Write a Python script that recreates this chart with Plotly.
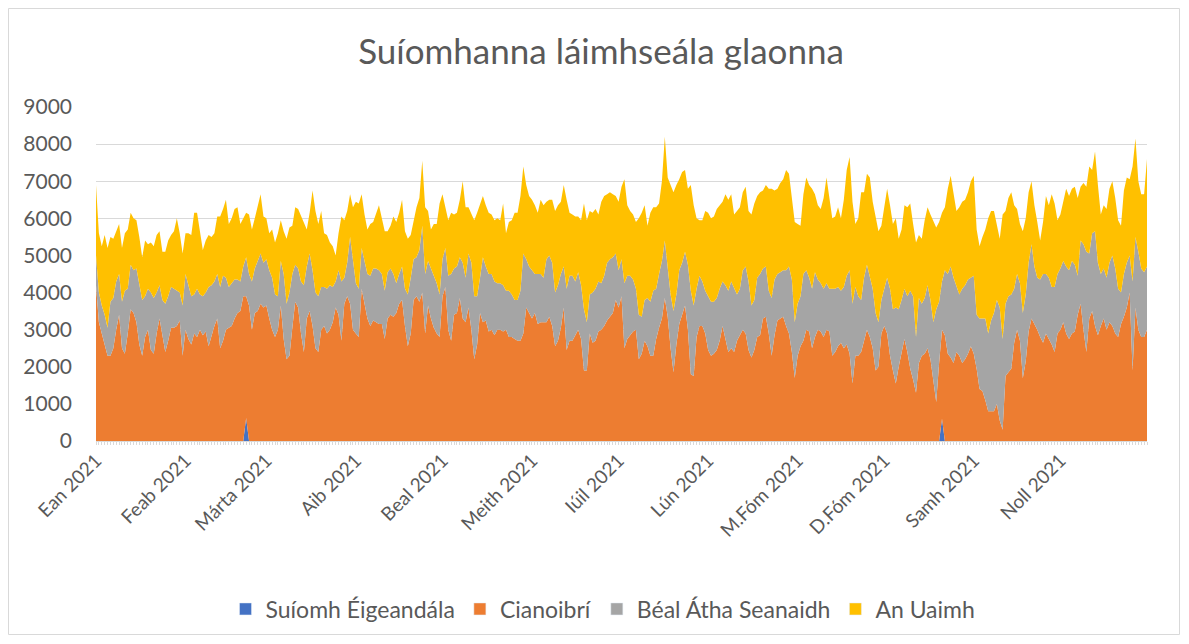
import pandas as pd
import plotly.graph_objects as go

dates = pd.date_range("2021-01-01", periods=365, freq="D")

month_ticks = pd.date_range("2021-01-01", periods=12, freq="MS")
month_labels = ["Ean 2021", "Feab 2021", "Márta 2021", "Aib 2021", "Beal 2021", "Meith 2021",
                "Iúil 2021", "Lún 2021", "M.Fóm 2021", "D.Fóm 2021", "Samh 2021", "Noll 2021"]

series_names = ["Suíomh Éigeandála", "Cianoibrí", "Béal Átha Seanaidh", "An Uaimh"]
series_colors = ["#4472C4", "#ED7D31", "#A5A5A5", "#FFC000"]

suiomh_eigeandala = [0] * 52 + [620] + [0] * 240 + [600] + [0] * 71

cianoibri = [
    4200, 3200, 2900, 2600, 2300, 2300, 2500, 3000, 3400, 2500,
    2350, 2900, 3550, 3450, 3200, 2600, 2300, 2800, 3000, 2450,
    2350, 2900, 3300, 2850, 2400, 2700, 3050, 3050, 3100, 3250,
    2300, 3000, 2750, 2600, 2900, 2800, 3000, 2850, 2950, 2550,
    2850, 3100, 3300, 2500, 2700, 3000, 3050, 3100, 3300, 3450,
    3500, 3900, 3280, 3650, 3000, 3450, 3500, 3700, 3600, 3650,
    3300, 3000, 2800, 3000, 3650, 2750, 2200, 2300, 3050, 3750,
    3600, 2900, 2400, 3300, 3500, 3100, 2500, 2400, 3000, 3100,
    2900, 3000, 3200, 3600, 3400, 2700, 3700, 3900, 3700, 3000,
    2900, 2800, 4100, 3700, 3300, 3100, 3250, 3200, 3150, 3150,
    2750, 3300, 3400, 3350, 3450, 3700, 3800, 3100, 2550, 2900,
    3800, 3900, 3750, 4000, 2900, 3650, 3300, 3050, 2900, 2800,
    3900, 4150, 3000, 2700, 3400, 3450, 3850, 3300, 3200, 3600,
    3000, 2200, 2600, 3450, 3200, 3250, 2950, 3000, 2850, 3000,
    3000, 2950, 3000, 2800, 2800, 2750, 2700, 2700, 2900, 3600,
    3450, 3300, 3450, 3150, 3200, 3200, 3200, 3350, 3100, 2550,
    2700, 3050, 3600, 2450, 2700, 2700, 2850, 3000, 2750, 1900,
    1900, 2900, 2650, 2700, 2950, 3000, 3100, 3250, 3350, 3450,
    3800, 3600, 3900, 2500, 2750, 2850, 2950, 3000, 2200, 2350,
    2700, 2550, 2300, 2300, 2750, 3050, 3300, 3850, 3350, 2500,
    1850, 2600, 3150, 3400, 3650, 3000, 1800, 1750, 2800, 3100,
    3100, 2900, 2450, 2300, 2350, 2450, 2700, 3100, 2700, 2400,
    2500, 2400, 2700, 2850, 3000, 2900, 2450, 2250, 2450, 2800,
    2850, 3300, 3350, 2900, 2300, 2850, 3250, 3300, 3350, 3100,
    2900, 2400, 1700, 2300, 2550, 2700, 3000, 2950, 2500, 2800,
    3000, 2950, 2800, 3000, 2950, 2300, 2400, 2550, 2650, 2500,
    2600, 2350, 1550, 2300, 2300, 2400, 2700, 3000, 2800, 2500,
    1900, 2000, 2900, 3100, 2900, 2300, 1900, 1550, 2000, 2400,
    2750, 2400, 1950, 1650, 1300, 2100, 2300, 2350, 2500, 2200,
    1650, 1050, 2100, 2400, 2850, 2350, 2250, 2100, 2400, 2300,
    2100, 2200, 2350, 2550, 2350, 1950, 1400, 1350, 1100, 800,
    800, 800, 1000, 550, 300, 1750, 1850, 1950, 2650, 3000,
    2700, 1700, 2150, 2950, 3300, 3150, 3000, 2800, 2650, 2900,
    2750, 2600, 2400, 2900, 3000, 3200, 2900, 2750, 2900, 2950,
    3400, 3700, 3000, 2400, 3300, 3500, 3100, 2850, 3100, 3300,
    3000, 3200, 3100, 2900, 2800, 3150, 3350, 3600, 4000, 1900,
    3600, 3000, 2800, 2800, 3000,
]

beal_atha_seanaidh = [
    800, 800, 750, 800, 750, 1450, 1350, 1300, 1100, 1250,
    1700, 1200, 1200, 1150, 1450, 1600, 1500, 1100, 1100, 1550,
    1500, 1100, 900, 950, 1300, 1200, 1100, 1050, 950, 750,
    1350, 1500, 1450, 1300, 1050, 1300, 950, 1050, 1050, 1600,
    1350, 1200, 1200, 1650, 1750, 1400, 1100, 1150, 1050, 900,
    800, 800, 1050, 850, 1300, 1200, 1350, 1350, 1200, 1250,
    1300, 1400, 1150, 900, 1200, 1750, 1500, 1700, 1450, 1000,
    1050, 1400, 1800, 1400, 1550, 1500, 1500, 1500, 1150, 1050,
    1200, 1200, 950, 700, 1200, 1600, 700, 900, 1800, 1800,
    1350, 1300, 1100, 1150, 1200, 1350, 1400, 1450, 1450, 1350,
    1300, 1250, 1250, 1150, 800, 800, 900, 1000, 1400, 1500,
    1100, 1050, 1400, 1800, 1600, 1200, 1350, 1400, 1350, 1150,
    1000, 1050, 1450, 1800, 1250, 1250, 1100, 1500, 1200, 1450,
    1800, 1700, 1300, 950, 1750, 1450, 1550, 1500, 1450, 1250,
    1250, 1250, 1050, 1250, 1150, 1050, 1100, 1350, 2150, 1300,
    1250, 1300, 1050, 1350, 1300, 1200, 1700, 1650, 1700, 1450,
    1500, 1450, 1100, 1650, 1750, 1750, 1450, 1550, 1450, 1650,
    1300, 1050, 1350, 1400, 1350, 1250, 1350, 1550, 1550, 1500,
    1250, 1000, 1000, 1750, 1700, 1600, 1400, 1100, 1200, 1000,
    1100, 1300, 1450, 1750, 1350, 1450, 1550, 1550, 1350, 1450,
    1650, 1350, 1450, 1400, 1450, 1750, 2250, 1900, 1300, 1350,
    1200, 1150, 1450, 1450, 1400, 1400, 1400, 1200, 1500, 1650,
    1800, 1700, 1250, 1250, 1600, 1800, 1850, 1400, 1350, 1600,
    1650, 1350, 1350, 1150, 1550, 1500, 1250, 1250, 1250, 1500,
    1800, 1950, 1500, 1400, 1350, 1800, 1600, 1450, 1600, 1750,
    1350, 1300, 1300, 1250, 1150, 1800, 1700, 1600, 1400, 1650,
    1850, 2250, 2150, 1850, 1600, 1400, 1700, 1750, 1600, 1600,
    1550, 1200, 900, 1000, 1500, 1800, 1650, 2050, 1550, 1400,
    1350, 1500, 2100, 2250, 1500, 1750, 1400, 1500, 1700, 1600,
    1550, 2500, 1650, 1300, 1750, 2150, 2450, 2300, 1750, 1650,
    2000, 2000, 2000, 1850, 2100, 1450, 1900, 1950, 2200, 2100,
    2450, 2650, 2800, 3050, 2450, 1950, 2050, 2000, 1450, 1500,
    1550, 1750, 1800, 1850, 2000, 1550, 1400, 1550, 1850, 1600,
    1650, 1550, 1750, 1600, 1650, 1650, 1800, 1850, 1950, 1800,
    1050, 1700, 2300, 2700, 1750, 2100, 2550, 1950, 1400, 1350,
    1400, 1600, 1900, 1750, 1300, 850, 1150, 1200, 1000, 2400,
    1900, 2100, 1850, 1750, 1700,
]

an_uaimh = [
    1900, 1600, 1600, 2150, 2150, 1750, 1600, 1350, 1350, 1450,
    1550, 1600, 1400, 1400, 1300, 1300, 1150, 1500, 1200, 1350,
    1400, 1550, 1450, 1300, 1400, 1500, 1400, 1550, 1950, 1600,
    1400, 1100, 1400, 1650, 2200, 2050, 1650, 1250, 1400, 1400,
    1300, 1300, 1550, 1900, 1800, 2100, 1700, 1750, 1900, 1950,
    1550, 1300, 1200, 1600, 1400, 1350, 1450, 1600, 1250, 1100,
    1000, 1300, 1400, 1700, 1100, 1150, 1750, 1750, 1300, 1550,
    1600, 1750, 1650, 1000, 1100, 2150, 2200, 1950, 2050, 1450,
    1450, 1150, 1100, 700, 1000, 1750, 1550, 1400, 1150, 1500,
    2200, 2300, 1450, 1250, 1200, 1400, 1250, 1450, 1750, 1500,
    1600, 1100, 1150, 1550, 1650, 1650, 1800, 1550, 1500, 1150,
    1050, 1350, 1400, 1750, 1800, 1350, 1050, 1400, 1600, 2450,
    1750, 1050, 1500, 1650, 1450, 1450, 1550, 2200, 1900, 1250,
    1300, 2050, 2250, 2000, 1650, 1650, 1650, 1600, 1650, 1750,
    1700, 2200, 1550, 1850, 2000, 2350, 2350, 2550, 2350, 2000,
    1900, 1900, 1850, 1650, 2000, 1950, 1550, 1500, 1700, 2200,
    2150, 1950, 2200, 2400, 1700, 1650, 1750, 1500, 1750, 2850,
    2750, 2250, 2150, 2150, 1800, 2200, 2150, 1850, 1800, 1700,
    1550, 1850, 1950, 2800, 1900, 1750, 1750, 1800, 2600, 2800,
    2550, 1950, 2400, 2250, 2200, 1900, 2150, 2800, 2400, 2950,
    3200, 2950, 2450, 2450, 2200, 2050, 2850, 2700, 1900, 1500,
    1650, 2150, 2250, 2250, 2300, 2400, 2250, 2150, 2450, 2450,
    2350, 2000, 2250, 2200, 2100, 2150, 1900, 2450, 2600, 2200,
    2200, 2100, 2200, 2750, 2950, 2400, 2300, 2400, 2450, 2700,
    2500, 2150, 2700, 2150, 1900, 2150, 2500, 2500, 2700, 2100,
    2000, 2000, 2450, 2850, 2500, 1900, 1950, 2150, 1950, 2350,
    2850, 3050, 2750, 1700, 2100, 2900, 2300, 2450, 2700, 2350,
    2600, 2450, 2000, 2150, 2400, 2250, 2300, 2400, 1900, 1900,
    2250, 2400, 2350, 1950, 2550, 1700, 1750, 2100, 2100, 2300,
    2700, 2200, 2150, 1850, 1700, 2300, 2450, 2250, 2050, 2350,
    2350, 2300, 2350, 2600, 2700, 2300, 1950, 2200, 2400, 3100,
    2950, 2750, 2000, 1850, 3350, 2500, 2650, 2750, 2250, 1750,
    1600, 2200, 2050, 1900, 1700, 1650, 1500, 1050, 1400, 2100,
    1950, 2500, 2250, 1450, 1450, 1600, 2100, 2000, 1950, 2100,
    2100, 1450, 1650, 1750, 2350, 1700, 2150, 2100, 1600, 1700,
    1850, 2000, 2000, 1900, 1850, 1800, 2250, 2300, 2050, 3100,
    2650, 1900, 2000, 2100, 2900,
]

y_ticks = [0, 1000, 2000, 3000, 4000, 5000, 6000, 7000, 8000, 9000]

all_series = [suiomh_eigeandala, cianoibri, beal_atha_seanaidh, an_uaimh]

FONT = "Lato"
TXT = "#595959"

fig = go.Figure()
for name, color, vals in zip(series_names, series_colors, all_series):
    fig.add_trace(go.Scatter(
        x=dates, y=vals, name=name, mode="lines",
        stackgroup="one", line=dict(width=0, color=color),
        fillcolor=color, showlegend=False,
    ))
# legend entries drawn as square swatches, like the original
for name, color in zip(series_names, series_colors):
    fig.add_trace(go.Bar(x=[None], y=[None], name=name, marker=dict(color=color),
                         showlegend=True, hoverinfo="skip"))

# figure sits inside the page's 8px body margin; its edge is the chart border
W, H = 1172, 627
L, R, T, B = 88, 1139, 99, 433
pw, ph = R - L, B - T

fig.update_layout(
    width=W, height=H,
    margin=dict(l=L, r=W - R, t=T, b=H - B, autoexpand=False),
    paper_bgcolor="white", plot_bgcolor="white",
    font=dict(family=FONT, color=TXT, size=19),
    title=dict(text="Suíomhanna láimhseála glaonna", xref="container", x=593 / W,
               xanchor="center", y=1 - 44 / H, yanchor="middle",
               font=dict(size=35, color=TXT, family=FONT)),
    showlegend=True,
    legend=dict(orientation="h", x=(595 - L) / pw, xanchor="center", y=(B - 601) / ph,
                yanchor="middle", font=dict(size=23, color=TXT), traceorder="normal",
                itemwidth=30),
    xaxis=dict(
        type="date", range=[dates[0], dates[-1]], automargin=False,
        tickvals=list(month_ticks), ticktext=month_labels, tickangle=-45,
        showgrid=False, showline=True, linecolor="#d9d9d9", linewidth=1,
        ticks="", tickfont=dict(size=19, color=TXT),
        minor=dict(dtick=86400000, ticks="outside", ticklen=3, tickcolor="#d9d9d9", showgrid=False),
    ),
    yaxis=dict(
        range=[0, 9000], tickvals=y_ticks, showgrid=True, gridcolor="#d9d9d9", gridwidth=1,
        zeroline=False, showline=False, ticks="", tickfont=dict(size=21, color=TXT),
        ticklabelstandoff=23, automargin=False,
    ),
    hovermode="x unified",
)

fig.add_shape(type="rect", xref="paper", yref="paper",
              x0=(0.5 - L) / pw, x1=(W - 0.5 - L) / pw,
              y0=(B - H + 0.5) / ph, y1=(B - 0.5) / ph,
              line=dict(color="#d9d9d9", width=1), fillcolor="rgba(0,0,0,0)", layer="below")

fig.write_html("out.html")
